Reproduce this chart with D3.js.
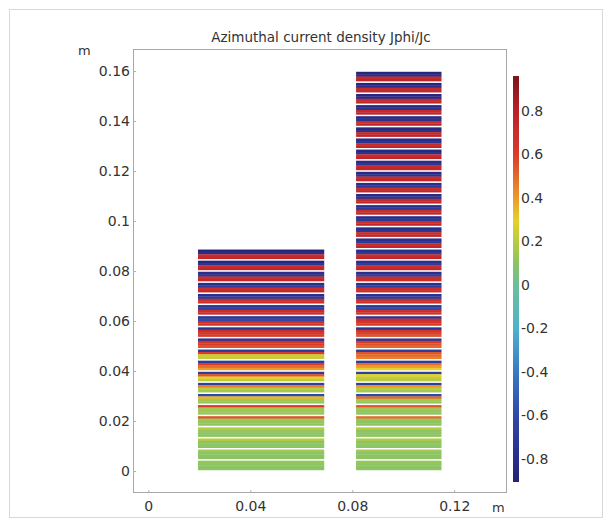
<!DOCTYPE html>
<html><head><meta charset="utf-8">
<script src="https://cdn.jsdelivr.net/npm/d3@7"></script>
<style>body{margin:0;background:#fff}svg{display:block}text{font-family:"DejaVu Sans",sans-serif;fill:#333}</style>
</head><body><svg id="c" width="612" height="522"></svg>
<script>
// ---- data ----
const xTicks = [0, 0.04, 0.08, 0.12];
const yTicks = [0, 0.02, 0.04, 0.06, 0.08, 0.1, 0.12, 0.14, 0.16];
const cbTicks = [-0.8, -0.6, -0.4, -0.2, 0, 0.2, 0.4, 0.6, 0.8];
const colorStops = [-1, -0.8, -0.6, -0.4, -0.2, 0, 0.1, 0.2, 0.3, 0.4, 0.6, 0.8, 1];
const colorValues = ["#231a5e","#2a2d8a","#2f48a6","#3a78c4","#4fb2cc","#6cbf98","#8cc464","#b8cc3e","#e6d22c","#eb9a2c","#d93b2b","#b8222a","#6e1015"];
const cbRange = [-0.906, 0.961];
const stackNames = ["inner", "outer"];
const stackX = [[0.0195, 0.0690], [0.0815, 0.1150]];
const stackTop = [0.0889, 0.16];
// values per tape, bottom tape first; each tape: 4 bands, top to bottom
const stack1Tapes = [
  [0.12,0.1,0.1,0.1],[0.15,0.1,0.1,0.1],[0.2,0.1,0.1,0.1],[0.2,0.12,0.1,0.1],
  [0.55,0.14,0.12,0.1],[0.6,0.15,0.14,0.12],[-0.6,0.35,0.15,0.12],[-0.65,0.45,0.2,0.15],
  [-0.7,0.55,0.3,0.2],[-0.7,0.6,0.5,0.4],[-0.7,0.6,0.25,0.22],[-0.75,0.65,0.6,0.55],
  [-0.75,0.7,0.65,0.6],[-0.75,-0.6,0.7,0.65],[-0.78,-0.65,0.7,0.7],[-0.8,-0.68,0.7,0.7],
  [-0.8,-0.7,0.7,0.75],[-0.8,-0.75,0.7,0.75],[-0.85,-0.75,0.7,0.75],[-0.85,-0.8,0.7,0.75]
];
const stack2Tapes = [
  [0.12,0.1,0.1,0.1],[0.15,0.1,0.1,0.1],[0.18,0.1,0.1,0.1],[0.2,0.1,0.1,0.1],
  [0.5,0.12,0.1,0.1],[0.55,0.15,0.12,0.1],[-0.6,0.5,0.15,0.12],[-0.65,0.4,0.2,0.15],
  [-0.65,0.3,0.22,0.2],[-0.7,0.5,0.4,0.3],[-0.7,0.55,0.5,0.45],[-0.72,0.6,0.55,0.5],
  [-0.75,0.65,0.6,0.55],[-0.75,0.7,0.65,0.6],[-0.75,-0.6,0.7,0.65],[-0.78,-0.65,0.7,0.7],
  [-0.78,-0.66,0.7,0.7],[-0.8,-0.68,0.7,0.7],[-0.8,-0.7,0.7,0.75],[-0.8,-0.7,0.7,0.75],
  [-0.8,-0.7,0.72,0.75],[-0.8,-0.72,0.7,0.75],[-0.82,-0.72,0.7,0.75],[-0.8,-0.7,0.7,0.75],
  [-0.82,-0.75,0.72,0.75],[-0.8,-0.72,0.7,0.75],[-0.82,-0.75,0.7,0.76],[-0.82,-0.75,0.72,0.75],
  [-0.84,-0.76,0.7,0.76],[-0.82,-0.75,0.72,0.76],[-0.84,-0.78,0.72,0.76],[-0.84,-0.78,0.7,0.76],
  [-0.85,-0.78,0.72,0.77],[-0.85,-0.8,0.72,0.77],[-0.86,-0.8,0.72,0.78],[-0.88,-0.82,0.72,0.78]
];
const stacks = [stack1Tapes, stack2Tapes];

// ---- chart ----
const svg = d3.select("#c");
const L = 133, R = 507, T = 49, B = 493;
const x = d3.scaleLinear().domain([-0.006, 0.1407]).range([L, R]);
const y = d3.scaleLinear().domain([-0.0088, 0.1688]).range([B, T]);
const color = d3.scaleLinear().domain(colorStops).range(colorValues).clamp(true);
const fmtMinus = s => s.replace("\u2212", "-");

const defs = svg.append("defs");
defs.append("filter").attr("id","soft").attr("x","-5%").attr("y","-5%").attr("width","110%").attr("height","110%")
  .append("feGaussianBlur").attr("stdDeviation",0.45);

// outer figure border
svg.append("rect").attr("x",9.5).attr("y",9.5).attr("width",593).attr("height",508)
  .attr("fill","none").attr("stroke","#d8d8d8");

// tapes
const gapFrac = 0.14;
stacks.forEach((tapes, s) => {
  const pitch = stackTop[s] / tapes.length;
  const g = svg.append("g").attr("class", stackNames[s]).attr("filter","url(#soft)");
  tapes.forEach((bands, i) => {
    const top = (i + 1) * pitch - pitch * gapFrac / 2;
    const bodyH = pitch * (1 - gapFrac);
    const bh = bodyH / bands.length;
    bands.forEach((v, k) => {
      const yt = top - k * bh, yb = top - (k + 1) * bh;
      g.append("rect")
        .attr("x", x(stackX[s][0])).attr("width", x(stackX[s][1]) - x(stackX[s][0]))
        .attr("y", y(yt)).attr("height", y(yb) - y(yt) + (k < bands.length - 1 ? 0.3 : 0))
        .attr("fill", color(v));
    });
  });
});

// frame
svg.append("rect").attr("x",L+0.5).attr("y",T+0.5).attr("width",R-L-1).attr("height",B-T-1)
  .attr("fill","none").attr("stroke","#a8a8a8");

// axes
const xa = svg.append("g").attr("transform",`translate(0,${B})`)
  .call(d3.axisBottom(x).tickValues(xTicks).tickSize(-3).tickPadding(8).tickFormat(d => d === 0 ? "0" : d3.format(".2f")(d)));
const ya = svg.append("g").attr("transform",`translate(${L},0)`)
  .call(d3.axisLeft(y).tickValues(yTicks).tickSize(-3).tickPadding(3).tickFormat(d => d === 0 ? "0" : (Math.abs(d-0.1)<1e-9 ? "0.1" : d3.format(".2f")(d))));
[xa, ya].forEach(a => {
  a.select(".domain").remove();
  a.selectAll("line").attr("stroke","#b0b0b0");
  a.selectAll("text").attr("font-size","14px").attr("fill","#333");
});
svg.append("text").attr("x",78).attr("y",55).attr("font-size","13px").text("m");
svg.append("text").attr("x",492).attr("y",512).attr("font-size","13px").text("m");

// title
svg.append("text").attr("x",321).attr("y",42).attr("text-anchor","middle")
  .attr("font-size","13.5px").attr("fill","#222").text("Azimuthal current density Jphi/Jc");

// colorbar
const cy = d3.scaleLinear().domain(cbRange).range([482, 76]);
const grad = defs.append("linearGradient").attr("id","cb").attr("x1",0).attr("y1",1).attr("x2",0).attr("y2",0);
d3.range(0, 1.0001, 0.02).forEach(t => {
  const v = cbRange[0] + t * (cbRange[1] - cbRange[0]);
  grad.append("stop").attr("offset", t).attr("stop-color", color(v));
});
svg.append("rect").attr("x",513).attr("y",cy(cbRange[1])).attr("width",6)
  .attr("height",cy(cbRange[0]) - cy(cbRange[1])).attr("fill","url(#cb)");
const ca = svg.append("g").attr("transform","translate(519,0)")
  .call(d3.axisRight(cy).tickValues(cbTicks).tickSize(0).tickPadding(2).tickFormat(d => d === 0 ? "0" : fmtMinus(d3.format(".1f")(d))));
ca.select(".domain").remove();
ca.selectAll("text").attr("font-size","14px").attr("fill","#333");
</script></body></html>
